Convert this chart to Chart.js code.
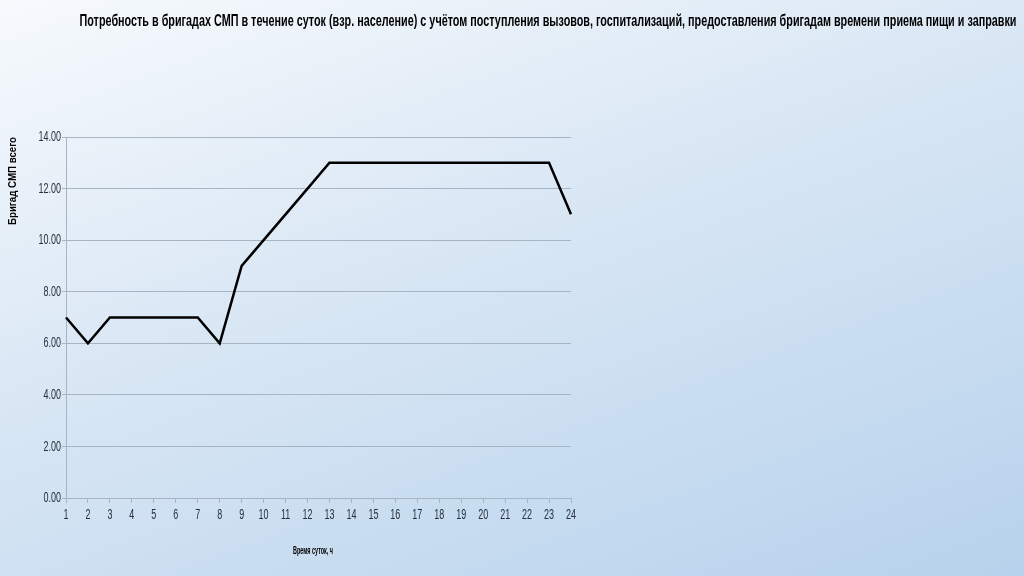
<!DOCTYPE html>
<html><head><meta charset="utf-8">
<script src="https://cdn.jsdelivr.net/npm/chart.js@4/dist/chart.umd.min.js"></script>
<style>
html,body{margin:0;padding:0;}
body{width:1024px;height:576px;overflow:hidden;background:linear-gradient(160deg,#f7fafd 0%,#dbe8f5 40%,#b7d2ec 100%);}
canvas{display:block;}
</style></head>
<body><canvas id="c" width="1024" height="576"></canvas>
<script>
const titleText = "Потребность в бригадах СМП в течение суток (взр. население) с учётом поступления вызовов, госпитализаций, предоставления бригадам времени приема пищи и заправки";
const yAxisTitle = "Бригад СМП всего";
const xAxisTitle = "Время суток, ч";
const hours = ["1","2","3","4","5","6","7","8","9","10","11","12","13","14","15","16","17","18","19","20","21","22","23","24"];
const brigades = [7,6,7,7,7,7,7,6,9,10,11,12,13,13,13,13,13,13,13,13,13,13,13,11];

const gridColor = '#a7b4c4';
const textFont = '"Liberation Sans", Arial, sans-serif';
const TICK_SQUEEZE = 0.6;

function fitText(ctx, text, cx, cy, width, font, rot){
  ctx.save();
  ctx.font = font;
  const w = ctx.measureText(text).width;
  ctx.translate(cx, cy);
  if (rot) ctx.rotate(rot);
  ctx.scale(width / w, 1);
  ctx.textAlign = 'center';
  ctx.textBaseline = 'middle';
  ctx.fillText(text, 0, 0);
  ctx.restore();
}

let squeeze = false;
const narrowTicks = {
  id:'narrowTicks',
  beforeInit(chart){
    const ctx = chart.ctx;
    const orig = ctx.rotate.bind(ctx);
    ctx.rotate = function(a){ orig(a); if (squeeze) ctx.scale(TICK_SQUEEZE, 1); };
  },
  beforeDraw(){ squeeze = true; },
  beforeDatasetsDraw(){ squeeze = false; },
  afterDraw(){ squeeze = false; }
};

const decor = {
  id:'decor',
  afterDraw(chart){
    const ctx = chart.ctx;
    ctx.fillStyle = '#000';
    fitText(ctx, titleText, 548, 21, 937, 'bold 17px ' + textFont, 0);
    fitText(ctx, xAxisTitle, 313, 551, 40, 'bold 10px ' + textFont, 0);
    fitText(ctx, yAxisTitle, 13, 181, 88, 'bold 10px ' + textFont, -Math.PI/2);
  }
};

new Chart(document.getElementById('c'), {
  type:'line',
  data:{ labels: hours, datasets:[{ data: brigades, borderColor:'#000', borderWidth:2.5, pointRadius:0, tension:0, fill:false }]},
  options:{
    responsive:false, animation:false,
    layout:{ padding:{ top:137, right:453, bottom:0, left:0 } },
    plugins:{ legend:{display:false}, title:{display:false}, tooltip:{enabled:false} },
    scales:{
      x:{
        offset:false,
        grid:{ drawOnChartArea:false, drawTicks:true, tickLength:5, color:gridColor },
        border:{ color:gridColor, width:1 },
        ticks:{ color:'#26303c', font:{ family:textFont, size:15 }, padding:3, maxRotation:0, minRotation:0, autoSkip:false },
        afterFit(s){ s.height = 78; }
      },
      y:{
        min:0, max:14,
        grid:{ color:gridColor, lineWidth:1, drawTicks:true, tickLength:4 },
        border:{ color:gridColor, width:1 },
        ticks:{ stepSize:2, color:'#26303c', font:{ family:textFont, size:15 }, padding:1, callback:v=>v.toFixed(2) },
        afterFit(s){ s.width = 66; }
      }
    }
  },
  plugins:[narrowTicks, decor]
});
</script>
</body></html>
